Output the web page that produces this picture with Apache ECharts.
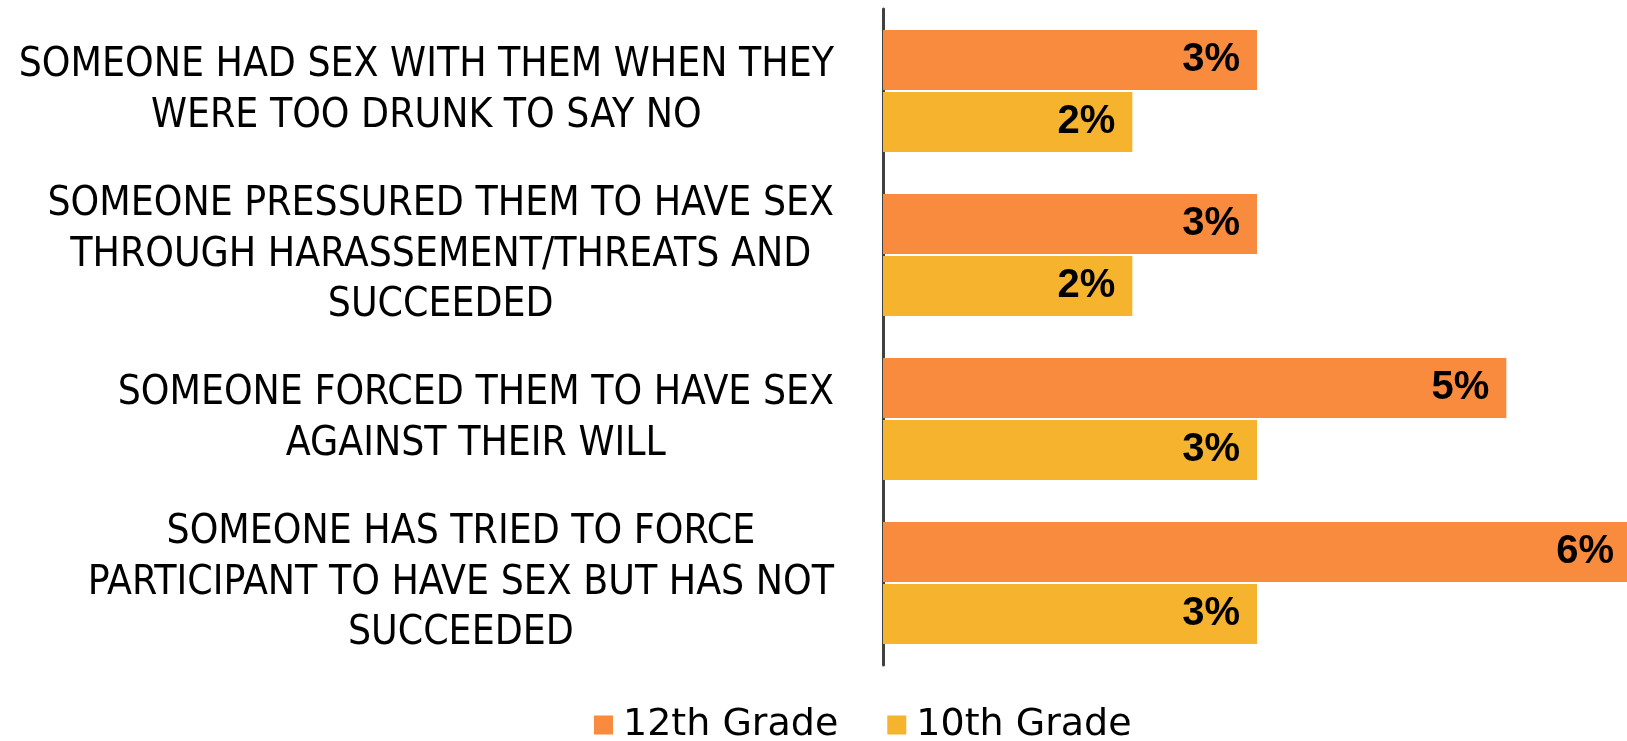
<!DOCTYPE html>
<html>
<head>
<meta charset="utf-8">
<script src="https://cdn.jsdelivr.net/npm/echarts@6/dist/echarts.min.js"></script>
<style>
html,body{margin:0;padding:0;background:#fff;}
#chart{width:1627px;height:741px;}
</style>
</head>
<body>
<div id="chart"></div>
<script>
const categories = [
  "SOMEONE HAD SEX WITH THEM WHEN THEY\nWERE TOO DRUNK TO SAY NO",
  "SOMEONE PRESSURED THEM TO HAVE SEX\nTHROUGH HARASSEMENT/THREATS AND\nSUCCEEDED",
  "SOMEONE FORCED THEM TO HAVE SEX\nAGAINST THEIR WILL",
  "SOMEONE HAS TRIED TO FORCE\nPARTICIPANT TO HAVE SEX BUT HAS NOT\nSUCCEEDED"
];
const seriesNames = ["12th Grade", "10th Grade"];
const grade12 = [3, 3, 5, 6];
const grade10 = [2, 2, 3, 3];
const colors = ["#F98B3F", "#F5B32E"];

const chart = echarts.init(document.getElementById('chart'));
const labelStyle = {
  show: true,
  position: 'insideRight',
  distance: 17,
  formatter: p => Math.round(p.value) + '%',
  color: '#000',
  fontFamily: 'Liberation Sans',
  fontWeight: 'bold',
  fontSize: 40
};
chart.setOption({
  animation: false,
  legend: {
    data: seriesNames,
    top: 706,
    left: 594,
    icon: 'rect',
    itemWidth: 19,
    itemHeight: 19,
    itemGap: 49,
    padding: 0,
    textStyle: { fontFamily: 'DejaVu Sans', fontSize: 38, color: '#000', padding: [0, 0, 0, 5] }
  },
  grid: { left: 883, right: -4, top: 9, height: 656, containLabel: false, outerBoundsMode: 'none' },
  xAxis: {
    type: 'value', min: 0, max: 6, show: false
  },
  yAxis: {
    type: 'category',
    data: categories,
    inverse: true,
    axisLine: { show: true, lineStyle: { color: '#404040', width: 3 } },
    axisTick: { show: false },
    axisLabel: {
      margin: 49,
      align: 'right',
      formatter: v => v.split('\n').map(l => '{c|' + l + '}').join('\n'),
      rich: {
        c: { align: 'center', fontFamily: 'DejaVu Sans Condensed, Liberation Sans', fontSize: 40.5, lineHeight: 50.5, color: '#000' }
      }
    }
  },
  series: [
    { name: seriesNames[0], type: 'bar', data: grade12, itemStyle: { color: colors[0] },
      barGap: '3%', barCategoryGap: '25.6%', label: labelStyle },
    { name: seriesNames[1], type: 'bar', data: grade10, itemStyle: { color: colors[1] },
      barGap: '3%', barCategoryGap: '25.6%', label: labelStyle }
  ]
});
</script>
</body>
</html>
